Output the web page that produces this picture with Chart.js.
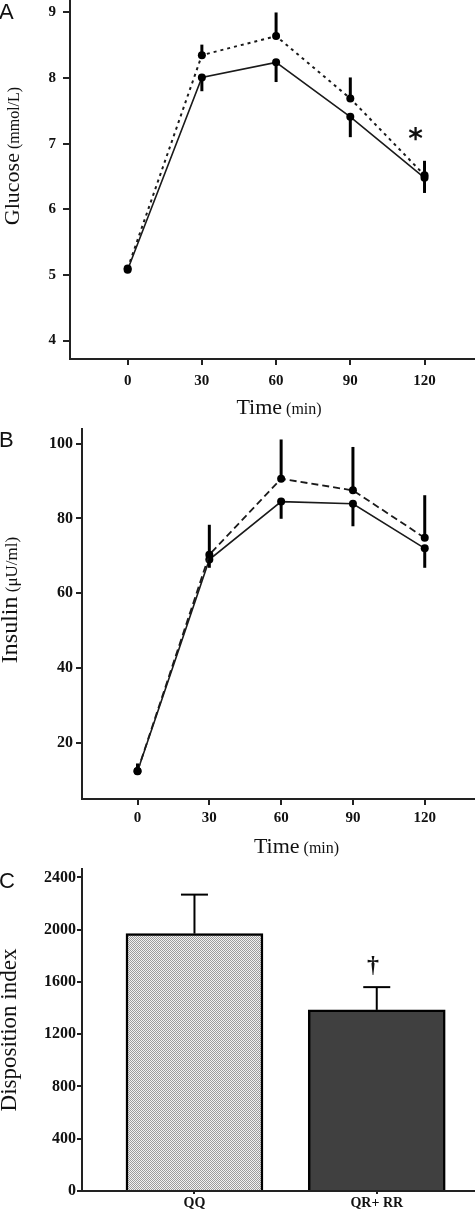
<!DOCTYPE html>
<html>
<head>
<meta charset="utf-8">
<script src="https://cdn.jsdelivr.net/npm/chart.js@4.4.1/dist/chart.umd.min.js"></script>
<style>
  html, body { margin: 0; padding: 0; background: #fff; }
  #wrap { position: relative; width: 475px; height: 1210px; overflow: hidden; }
  canvas { position: absolute; left: 0; }
</style>
</head>
<body>
<div id="wrap">
  <canvas id="chartA" width="475" height="420" style="top:0"></canvas>
  <canvas id="chartB" width="475" height="440" style="top:420px"></canvas>
  <canvas id="chartC" width="475" height="350" style="top:860px"></canvas>
</div>
<script>
// time points (min)
const timeMin = [0, 30, 60, 90, 120];

// A: glucose (mmol/L), mean and SEM
const glucoseTicks = [4, 5, 6, 7, 8, 9];
const glucoseSolid = [5.08, 8.01, 8.24, 7.41, 6.48];
const glucoseSolidSem = [0, 0.21, 0.30, 0.31, 0.23];
const glucoseDotted = [5.10, 8.35, 8.64, 7.69, 6.52];
const glucoseDottedSem = [0, 0.16, 0.36, 0.32, 0.22];

// B: insulin (uU/ml)
const insulinTicks = [20, 40, 60, 80, 100];
const insulinSolid = [12.4, 69.0, 84.5, 83.9, 72.0];
const insulinSolidSem = [1.0, 2.2, 4.6, 6.0, 5.2];
const insulinDashed = [12.5, 70.3, 90.6, 87.5, 74.8];
const insulinDashedSem = [2.0, 8.0, 10.5, 11.6, 11.4];

// C: disposition index by genotype
const groups = ['QQ', 'QR+ RR'];
const dispositionIndex = [1969, 1386];
const dispositionSem = [299, 174];
const dispositionTicks = [0, 400, 800, 1200, 1600, 2000, 2400];

const SERIF = '"Liberation Serif", "Times New Roman", serif';
const SANS = '"Liberation Sans", Arial, sans-serif';

function pts(xs, ys) {
  return xs.map((x, i) => ({ x: x, y: ys[i] }));
}

// fixed axis size so the plot area lands where it should
function fixedAxis(size) {
  return function (scale) {
    if (scale.isHorizontal()) scale.height = size;
    else scale.width = size;
    scale.paddingTop = 0;
    scale.paddingBottom = 0;
    scale.paddingLeft = 0;
    scale.paddingRight = 0;
  };
}

function setTicks(values) {
  return function (scale) {
    scale.ticks = values.map(v => ({ value: v }));
  };
}

function axis(opts) {
  return {
    type: 'linear',
    min: opts.min,
    max: opts.max,
    offset: false,
    afterBuildTicks: setTicks(opts.ticks),
    afterFit: fixedAxis(opts.size),
    grid: { drawOnChartArea: false, offset: false, tickLength: opts.tickLength, color: '#222', lineWidth: 2 },
    border: { display: true, color: '#222', width: 2 },
    ticks: {
      font: { family: SERIF, size: opts.fontSize, weight: 'bold' },
      color: '#111',
      padding: opts.padding,
      maxRotation: 0,
      autoSkip: false,
      callback: opts.callback || (v => v)
    }
  };
}

// text made of parts with different sizes, centred on (cx, cy)
function mixedText(ctx, parts, cx, cy, rotated) {
  ctx.save();
  ctx.translate(cx, cy);
  if (rotated) ctx.rotate(-Math.PI / 2);
  let total = 0;
  const widths = parts.map(p => {
    ctx.font = p[1];
    const w = ctx.measureText(p[0]).width;
    total += w;
    return w;
  });
  let x = -total / 2;
  ctx.textAlign = 'left';
  ctx.textBaseline = 'alphabetic';
  ctx.fillStyle = '#111';
  parts.forEach((p, i) => {
    ctx.font = p[1];
    ctx.fillText(p[0], x, 0);
    x += widths[i];
  });
  ctx.restore();
}

// glyph centred at a data position
function markAt(chart, text, font, xv, yv) {
  const ctx = chart.ctx;
  const px = chart.scales.x.getPixelForValue(xv);
  const py = chart.scales.y.getPixelForValue(yv);
  ctx.save();
  ctx.font = font;
  ctx.fillStyle = '#111';
  ctx.textAlign = 'center';
  ctx.textBaseline = 'alphabetic';
  const m = ctx.measureText(text);
  const off = (m.actualBoundingBoxAscent - m.actualBoundingBoxDescent) / 2;
  ctx.fillText(text, px, py + off);
  ctx.restore();
}

const errorBars = {
  id: 'errorBars',
  afterDatasetsDraw(chart) {
    const ctx = chart.ctx;
    const x = chart.scales.x;
    const y = chart.scales.y;
    chart.data.datasets.forEach(ds => {
      if (!ds.sem) return;
      ctx.save();
      ctx.strokeStyle = '#000';
      ctx.lineWidth = ds.errWidth;
      ds.data.forEach((p, j) => {
        const s = ds.sem[j];
        if (!s) return;
        const px = x.getPixelForValue(p.x);
        const y0 = y.getPixelForValue(p.y);
        const y1 = y.getPixelForValue(p.y + ds.errDir * s);
        ctx.beginPath();
        ctx.moveTo(px, y0);
        ctx.lineTo(px, y1);
        ctx.stroke();
        if (ds.capWidth) {
          ctx.beginPath();
          ctx.moveTo(px - ds.capWidth / 2, y1);
          ctx.lineTo(px + ds.capWidth / 2, y1);
          ctx.stroke();
        }
      });
      ctx.restore();
    });
  }
};

function decor(draw) {
  return { id: 'decor', afterDraw(chart) { draw(chart.ctx, chart); } };
}

function lineSet(ys, sem, dir, dash, width) {
  return {
    data: pts(timeMin, ys),
    sem: sem,
    errDir: dir,
    errWidth: 3,
    borderColor: '#1a1a1a',
    borderWidth: width,
    borderDash: dash,
    pointRadius: 4,
    pointBackgroundColor: '#000',
    pointBorderWidth: 0,
    tension: 0,
    fill: false
  };
}

const base = {
  responsive: false,
  animation: false,
  events: [],
  layout: { padding: 0, autoPadding: false },
  plugins: { legend: { display: false }, tooltip: { enabled: false } }
};

// Panel A
new Chart(document.getElementById('chartA'), {
  type: 'line',
  data: {
    datasets: [
      lineSet(glucoseDotted, glucoseDottedSem, 1, [3, 4], 2),
      lineSet(glucoseSolid, glucoseSolidSem, -1, [], 1.6)
    ]
  },
  options: Object.assign({}, base, {
    scales: {
      x: axis({ min: -23.3, max: 140.4, ticks: timeMin, size: 61, tickLength: 6, padding: 7, fontSize: 15 }),
      y: axis({ min: 3.72, max: 9.19, ticks: glucoseTicks, size: 70, tickLength: 7, padding: 7, fontSize: 15 })
    }
  }),
  plugins: [errorBars, decor((ctx, chart) => {
    ctx.save();
    ctx.font = '22px ' + SANS;
    ctx.fillStyle = '#111';
    ctx.fillText('A', -1, 18.5);
    ctx.restore();
    mixedText(ctx, [['Glucose', '22px ' + SERIF], [' (mmol/L)', '16px ' + SERIF]], 19, 156, true);
    mixedText(ctx, [['Time', '22px ' + SERIF], [' (min)', '16px ' + SERIF]], 279, 414, false);
    markAt(chart, '*', 'bold 28px "DejaVu Sans", sans-serif', 116.4, 7.15);
  })]
});

// Panel B
new Chart(document.getElementById('chartB'), {
  type: 'line',
  data: {
    datasets: [
      lineSet(insulinDashed, insulinDashedSem, 1, [7, 4], 1.8),
      lineSet(insulinSolid, insulinSolidSem, -1, [], 1.6)
    ]
  },
  options: Object.assign({}, base, {
    layout: { padding: { top: 9 }, autoPadding: false },
    scales: {
      x: axis({ min: -23.2, max: 141, ticks: timeMin, size: 61, tickLength: 6, padding: 4, fontSize: 15 }),
      y: axis({ min: 5, max: 103.9, ticks: insulinTicks, size: 82, tickLength: 6, padding: 3, fontSize: 16 })
    }
  }),
  plugins: [errorBars, decor((ctx, chart) => {
    ctx.save();
    ctx.font = '22px ' + SANS;
    ctx.fillStyle = '#111';
    ctx.fillText('B', -1, 26.7);
    ctx.restore();
    mixedText(ctx, [['Insulin', '24px ' + SERIF], [' (\u03bcU/ml)', '17px ' + SERIF]], 16.7, 180, true);
    mixedText(ctx, [['Time', '22px ' + SERIF], [' (min)', '16px ' + SERIF]], 296.5, 433, false);
  })]
});

// Panel C: stippled fill for the first bar
const pc = document.createElement('canvas');
pc.width = 2;
pc.height = 2;
const pctx = pc.getContext('2d');
pctx.fillStyle = '#f2f2f2';
pctx.fillRect(0, 0, 2, 2);
pctx.fillStyle = '#9c9c9c';
pctx.fillRect(0, 0, 1, 1);
pctx.fillRect(1, 1, 1, 1);
const stipple = pctx.createPattern(pc, 'repeat');

new Chart(document.getElementById('chartC'), {
  type: 'bar',
  data: {
    datasets: [{
      data: pts([0, 1], dispositionIndex),
      backgroundColor: [stipple, '#404040'],
      borderColor: '#000',
      borderWidth: 2.5,
      barThickness: 137,
      sem: dispositionSem,
      errDir: 1,
      errWidth: 2,
      capWidth: 27
    }]
  },
  options: Object.assign({}, base, {
    layout: { padding: { top: 9 }, autoPadding: false },
    scales: {
      x: axis({ min: -0.617, max: 1.539, ticks: [0, 1], size: 19, tickLength: 3, padding: 1, fontSize: 14,
                callback: v => groups[v] }),
      y: axis({ min: 0, max: 2464, ticks: dispositionTicks, size: 82, tickLength: 5, padding: 1, fontSize: 16 })
    }
  }),
  plugins: [errorBars, decor((ctx, chart) => {
    ctx.save();
    ctx.font = '22px ' + SANS;
    ctx.fillStyle = '#111';
    ctx.fillText('C', -1, 28);
    ctx.restore();
    mixedText(ctx, [['Disposition index', '23px ' + SERIF]], 16, 170, true);
    markAt(chart, '\u2020', 'bold 24px ' + SERIF, 0.98, 1725);
  })]
});
</script>
</body>
</html>
